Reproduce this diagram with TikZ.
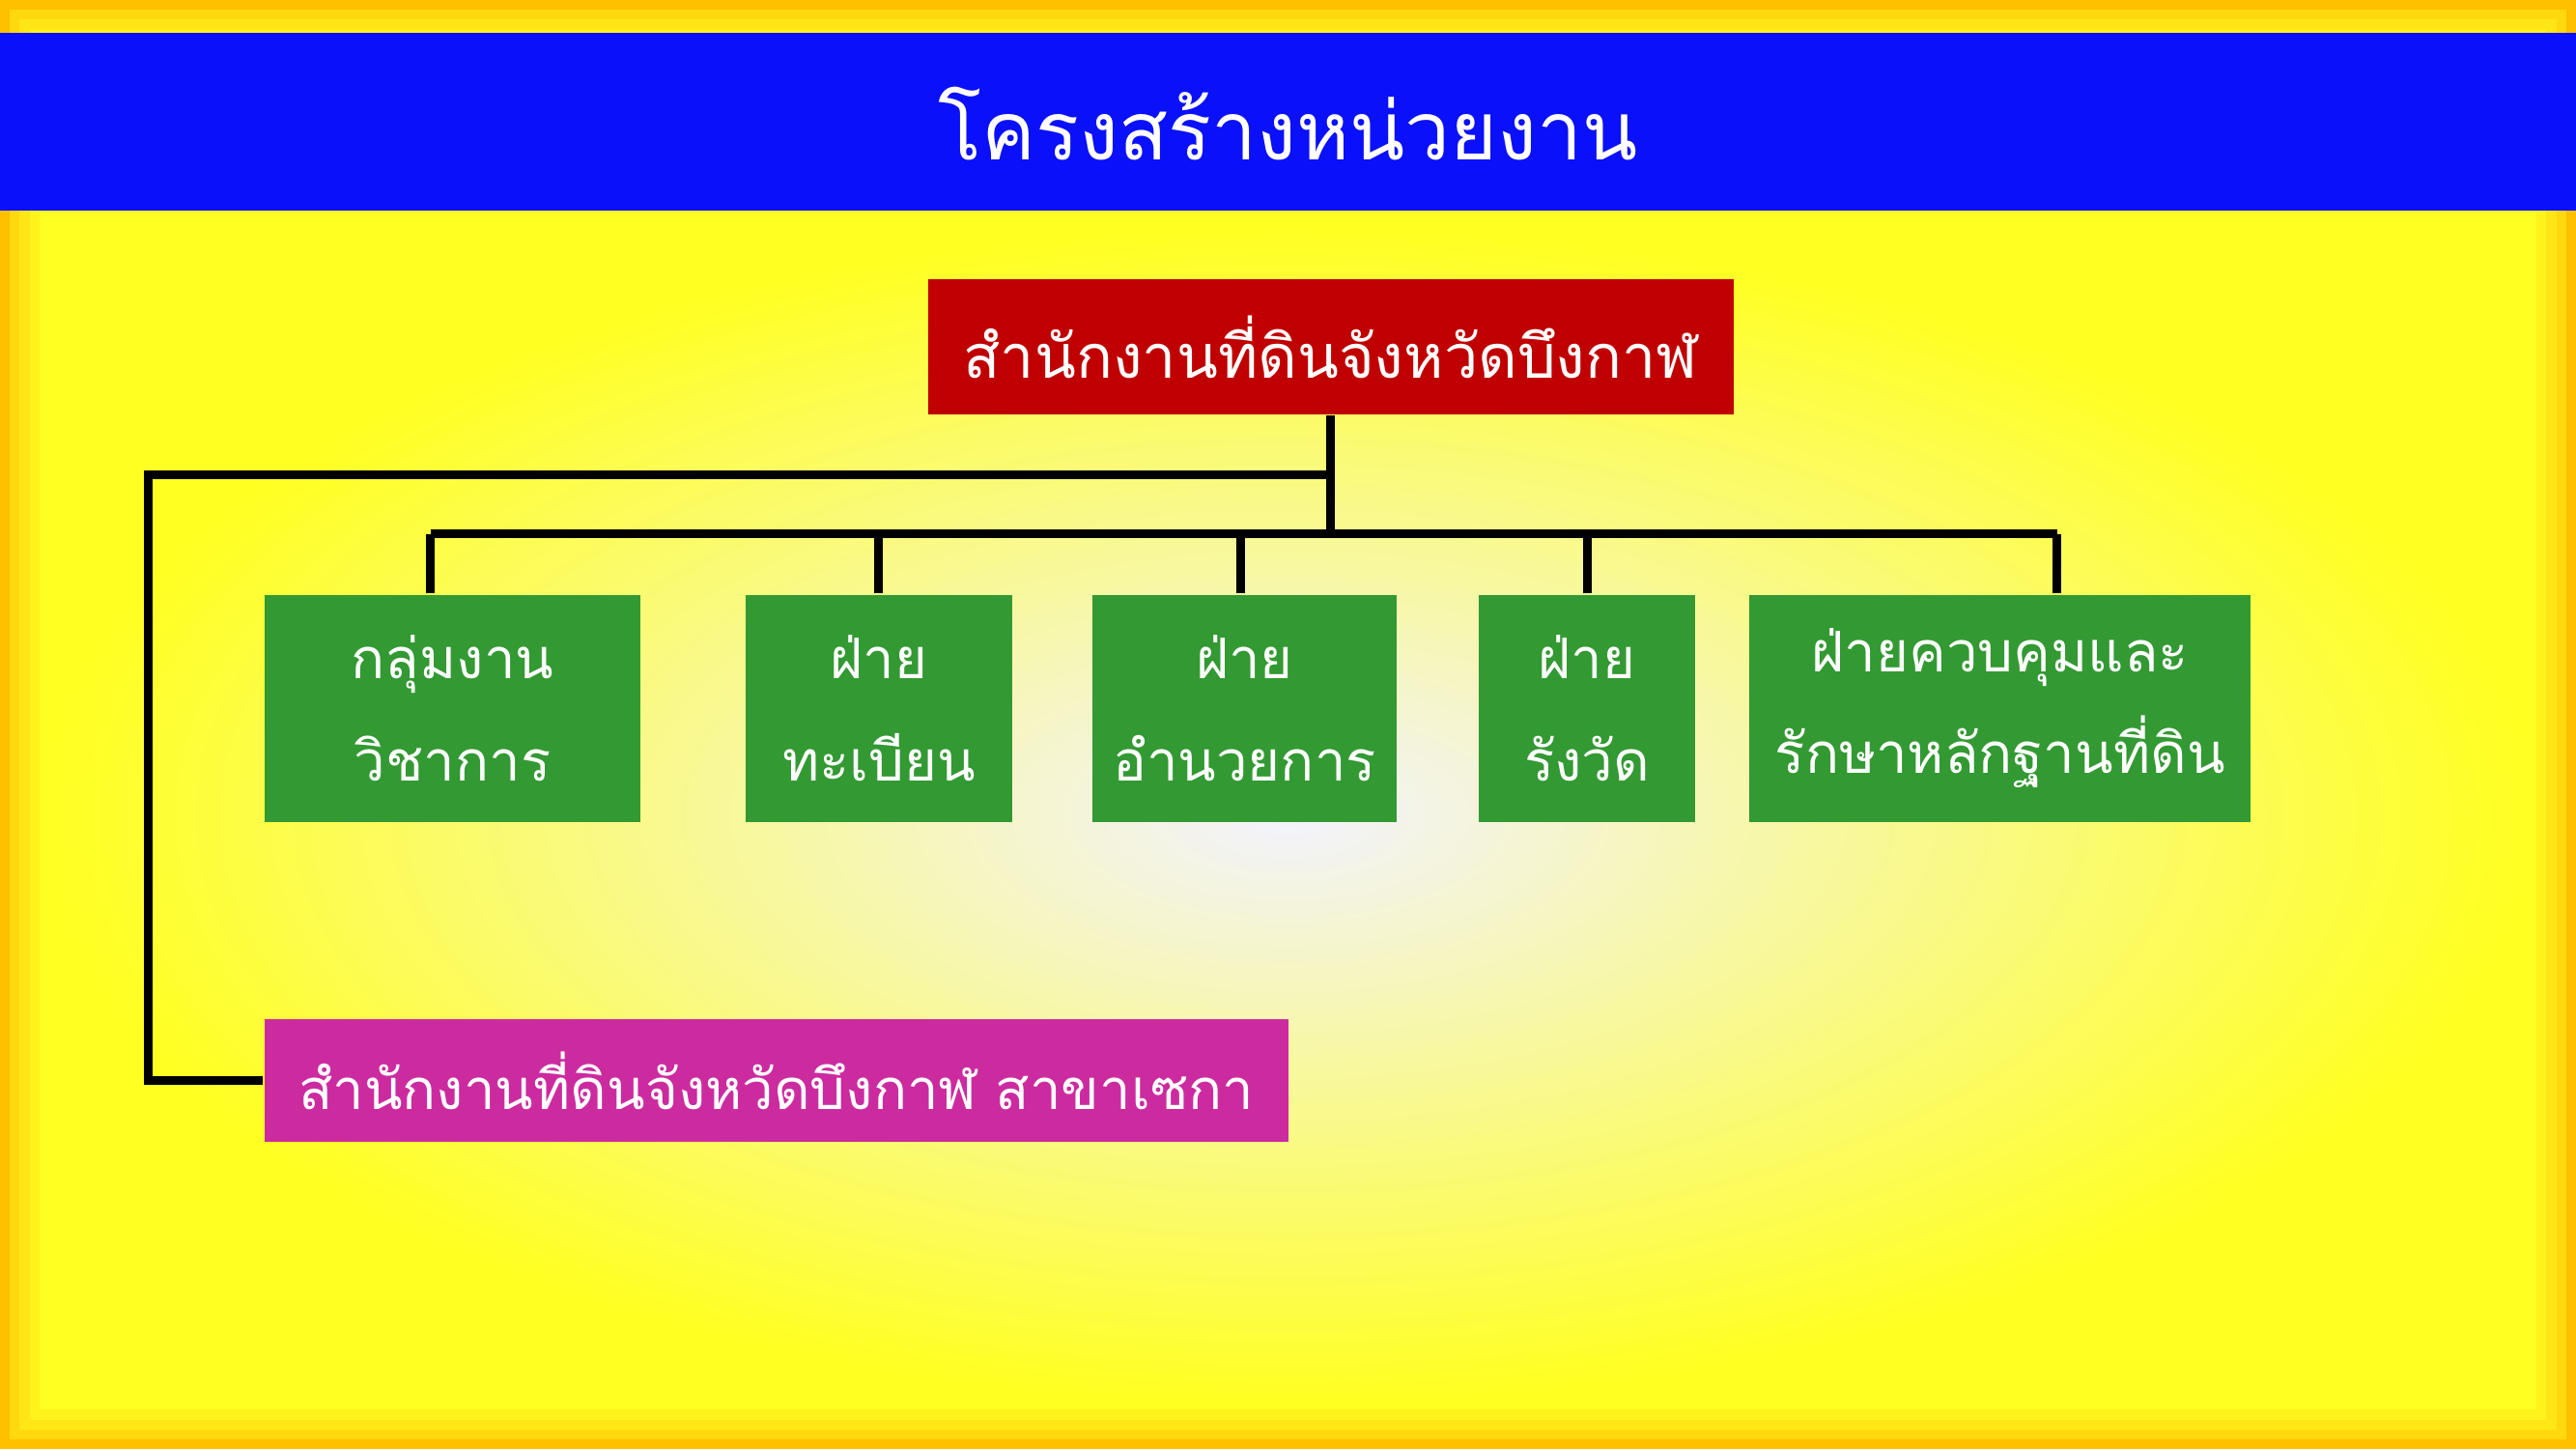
\documentclass[tikz,border=0pt]{standalone}
\usepackage{fontspec}
\newfontfamily\thaifont[Script=Thai]{Loma}
\usetikzlibrary{positioning}
\definecolor{bandblue}{HTML}{0A10FA}
\definecolor{headred}{HTML}{C00000}
\definecolor{boxgreen}{HTML}{339933}
\definecolor{boxpink}{HTML}{CC2BA0}
\definecolor{edgeorange}{HTML}{FFC000}
\definecolor{bgyellow}{HTML}{FFFF22}
\tikzset{
  unit/.style={fill=boxgreen, text=white, align=center, inner sep=0pt,
    minimum height=1.38cm, font=\thaifont\fontsize{9.7}{17.6}\selectfont},
  link/.style={line width=1.5pt, black}
}
\begin{document}
\begin{tikzpicture}[x=0.01cm,y=-0.01cm]
        % background
        \useasboundingbox (0,0) rectangle (1568,882);
        \fill[edgeorange] (0,0) rectangle (1568,882);
        \foreach \i/\c in {6/40,12/60,18/80,24/100}
          \fill[bgyellow!\c!edgeorange] (\i,\i) rectangle (1568-\i,882-\i);
        \shade[inner color=white!95!blue, outer color=bgyellow, draw=none]
          (30,140) rectangle (1538,852);
        \fill[bandblue] (0,20) rectangle (1568,128);
        \node[text=white, font=\thaifont\fontsize{14}{17}\selectfont] (title) at (784,75) {โครงสร้างหน่วยงาน};

        % boxes
        \node[fill=headred, text=white, minimum width=4.9cm, minimum height=0.82cm, inner sep=0pt,
          font=\thaifont\fontsize{10.5}{13}\selectfont] (office) at (810,211) {สำนักงานที่ดินจังหวัดบึงกาฬ};
        \node[unit, minimum width=2.29cm] (acad) at (275.5,431) {กลุ่มงาน\\วิชาการ};
        \node[unit, minimum width=1.62cm] (reg) at (535,431) {ฝ่าย\\ทะเบียน};
        \node[unit, minimum width=1.85cm] (admin) at (757.5,431) {ฝ่าย\\อำนวยการ};
        \node[unit, minimum width=1.32cm] (survey) at (966,431) {ฝ่าย\\รังวัด};
        \node[unit, minimum width=3.05cm] (control) at (1217.5,431) {ฝ่ายควบคุมและ\\รักษาหลักฐานที่ดิน};
        \node[fill=boxpink, text=white, minimum width=6.23cm, minimum height=0.75cm, inner sep=0pt,
          font=\thaifont\fontsize{9.7}{12}\selectfont] (branch) at (472.5,657.5) {สำนักงานที่ดินจังหวัดบึงกาฬ สาขาเซกา};

        % lines
        \coordinate (bar) at (810,325);
        \coordinate (side) at (810,289);
        \draw[link] (office.south) -- (bar);
        \draw[link] (262,325) -- (1252,325);
        \draw[link] (acad.north -| 262,0) -- (262,325);
        \draw[link] (reg.north) -- (reg.north |- bar);
        \draw[link] (admin.north -| 755,0) -- (755,325);
        \draw[link] (survey.north) -- (survey.north |- bar);
        \draw[link] (control.north -| 1252,0) -- (1252,325);
        \draw[link] (side) -- (90,289) |- (branch.west);
\end{tikzpicture}
\end{document}
